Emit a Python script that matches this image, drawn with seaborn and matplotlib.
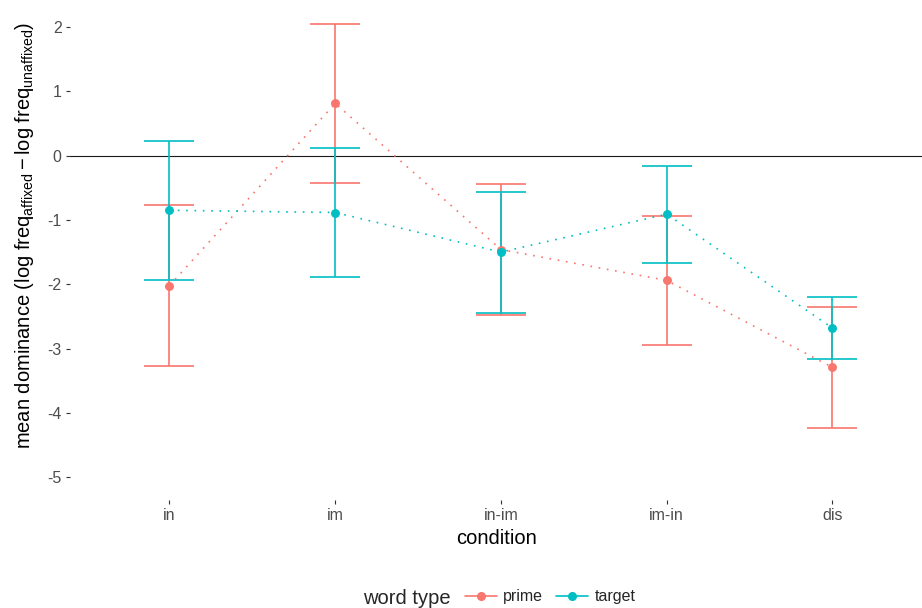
import numpy as np
import pandas as pd
import matplotlib
matplotlib.use("Agg")
import matplotlib.pyplot as plt
from matplotlib.lines import Line2D
import seaborn as sns

conditions = ["in", "im", "in-im", "im-in", "dis"]
prime_mean = [-2.02, 0.81, -1.46, -1.94, -3.29]
prime_lo = [-3.27, -0.43, -2.48, -2.94, -4.23]
prime_hi = [-0.77, 2.05, -0.44, -0.94, -2.35]
target_mean = [-0.85, -0.885, -1.50, -0.91, -2.68]
target_lo = [-1.94, -1.89, -2.45, -1.67, -3.16]
target_hi = [0.23, 0.113, -0.565, -0.155, -2.19]
yticks = [-5, -4, -3, -2, -1, 0, 1, 2]
word_types = ["prime", "target"]
colors = {"prime": "#F8766D", "target": "#00BFC4"}

df = pd.DataFrame({
    "condition": conditions * 2,
    "word type": ["prime"] * 5 + ["target"] * 5,
    "mean": prime_mean + target_mean,
    "lo": prime_lo + target_lo,
    "hi": prime_hi + target_hi,
})

sns.set_theme(style="white")
plt.rcParams["font.family"] = ["Liberation Sans", "DejaVu Sans"]
plt.rcParams["mathtext.fontset"] = "custom"
plt.rcParams["mathtext.rm"] = "Liberation Sans"
plt.rcParams["mathtext.it"] = "Liberation Sans"
plt.rcParams["axes.unicode_minus"] = False

fig = plt.figure(figsize=(9.22, 6.08), dpi=100)
ax = fig.add_axes([70 / 922, (608 - 500) / 608, (922 - 70) / 922, 499 / 608])

ax.axhline(0, color="#1a1a1a", lw=0.8, zorder=1)

for i, wt in enumerate(word_types):
    sub = df[df["word type"] == wt]
    xs = np.arange(len(sub))
    ax.errorbar(xs, sub["mean"], yerr=[sub["mean"] - sub["lo"], sub["hi"] - sub["mean"]],
                fmt="none", ecolor=colors[wt], elinewidth=1.2, capsize=18, capthick=1.2,
                zorder=2 + i)

sns.pointplot(data=df, x="condition", y="mean", hue="word type", order=conditions,
              hue_order=word_types, palette=colors, markers="o", linestyles=":",
              errorbar=None, dodge=False, markersize=5.5, linewidth=1.2, ax=ax, legend=False)
for ln in ax.lines:
    if ln.get_marker() == "o":
        ln.set_linestyle((0, (1, 4)))
        ln.set_zorder(5)

ax.set_xlim(-0.6, 4.54)
ax.set_ylim(-5.35, 2.4)
ax.set_yticks(yticks)
ax.set_yticklabels([str(t) for t in yticks])
for s in ax.spines.values():
    s.set_visible(False)
ax.tick_params(axis="both", length=3, width=0.8, color="#333333", labelcolor="#4D4D4D",
               labelsize=11.5, pad=3, left=True, bottom=True)
ax.set_xlabel("condition", fontsize=14.5, color="black", labelpad=4)
ax.set_ylabel(r"mean dominance $\left(\mathrm{log\ freq_{affixed}} - \mathrm{log\ freq_{unaffixed}}\right)$",
              fontsize=14.5, color="black")
ax.yaxis.set_label_coords(-0.04, 0.53)
ax.grid(False)

fig.text(363 / 922, 1 - 598 / 608, "word type", fontsize=14.5, ha="left", va="center")
handles = [Line2D([], [], color=colors[w], marker="o", markersize=5.5, lw=1.2) for w in word_types]
fig.legend(handles, word_types, loc="center left", bbox_to_anchor=(465 / 922, 1 - 597 / 608),
           ncol=2, frameon=False, fontsize=11.5, handlelength=2.0, handletextpad=0.4,
           columnspacing=0.8, borderpad=0, borderaxespad=0)

fig.savefig("out.png", dpi=100)
